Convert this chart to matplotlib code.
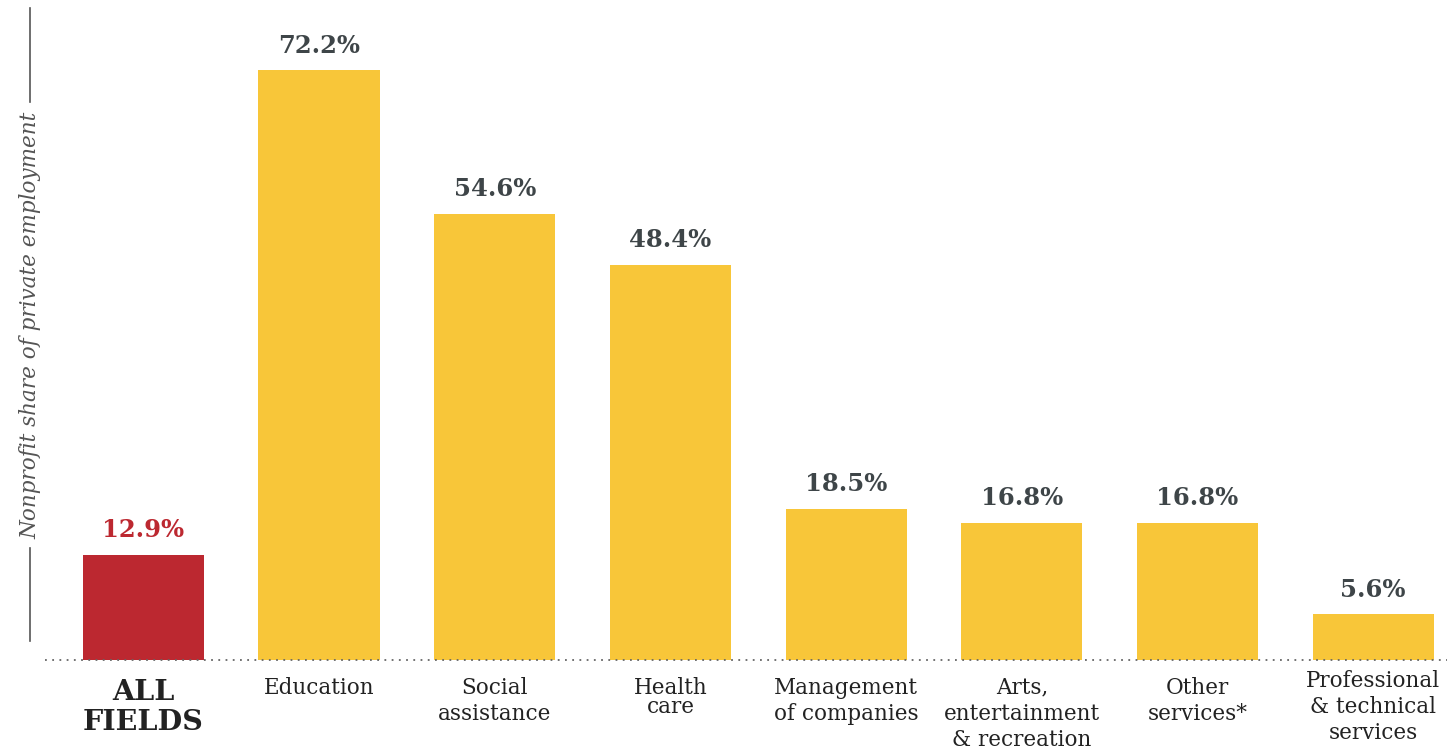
import matplotlib; matplotlib.use("Agg")
import matplotlib.pyplot as plt
from matplotlib.lines import Line2D

# ---- data ----
cats=["ALL\nFIELDS","Education","Social\nassistance","Health\ncare","Management\nof companies",
      "Arts,\nentertainment\n& recreation","Other\nservices*","Professional\n& technical\nservices"]
vals=[12.9,72.2,54.6,48.4,18.5,16.8,16.8,5.6]
labels=["12.9%","72.2%","54.6%","48.4%","18.5%","16.8%","16.8%","5.6%"]

YEL="#F8C639"; RED="#BC2830"; TXT="#3E4548"; AX="#555555"
plt.rcParams["font.family"]="DejaVu Serif"

W,H=1447,752
fig=plt.figure(figsize=(W/100,H/100),dpi=100)
# axes: left 45px, right 1447px, bottom at 660px from top
ax=fig.add_axes([45/W,(H-660)/H,(W-45)/W,653.6/H])
x=list(range(len(vals)))
ax.bar(x,vals,width=0.69,color=[RED]+[YEL]*(len(vals)-1),zorder=2)
ax.set_xlim(-0.56,7.42); ax.set_ylim(0,80)
for s in ax.spines.values(): s.set_visible(False)
ax.set_xticks([]); ax.set_yticks([])
ax.axhline(0,color="#666666",lw=1.3,ls=(0,(1,3)),zorder=3,clip_on=False)

for i,(v,l) in enumerate(zip(vals,labels)):
    ax.annotate(l,(i,v),xytext=(0,9),textcoords="offset points",ha="center",va="bottom",
                fontsize=17.5,fontweight="bold",color=RED if i==0 else TXT)
    if i==0:
        ax.annotate(cats[i],(i,0),xytext=(0,-14),textcoords="offset points",ha="center",va="top",
                    fontsize=20.5,fontweight="bold",color="#222222",linespacing=1.1)
    else:
        ls=0.85 if cats[i].startswith("Health") else 1.25
        dy=-7 if cats[i].startswith("Professional") else -12
        ax.annotate(cats[i],(i,0),xytext=(0,dy),textcoords="offset points",ha="center",va="top",
                    fontsize=15.5,color="#222222",linespacing=ls)

# y-axis label with rule lines
fig.add_artist(Line2D([30/W,30/W],[1-8/H,1-102/H],color=AX,lw=1.2))
fig.add_artist(Line2D([30/W,30/W],[1-548/H,1-641/H],color=AX,lw=1.2))
fig.text(30/W,1-325/H,"Nonprofit share of private employment",rotation=90,ha="center",va="center",
         fontsize=15.5,style="italic",color=AX)

fig.savefig("out.png",dpi=100,facecolor="white")
